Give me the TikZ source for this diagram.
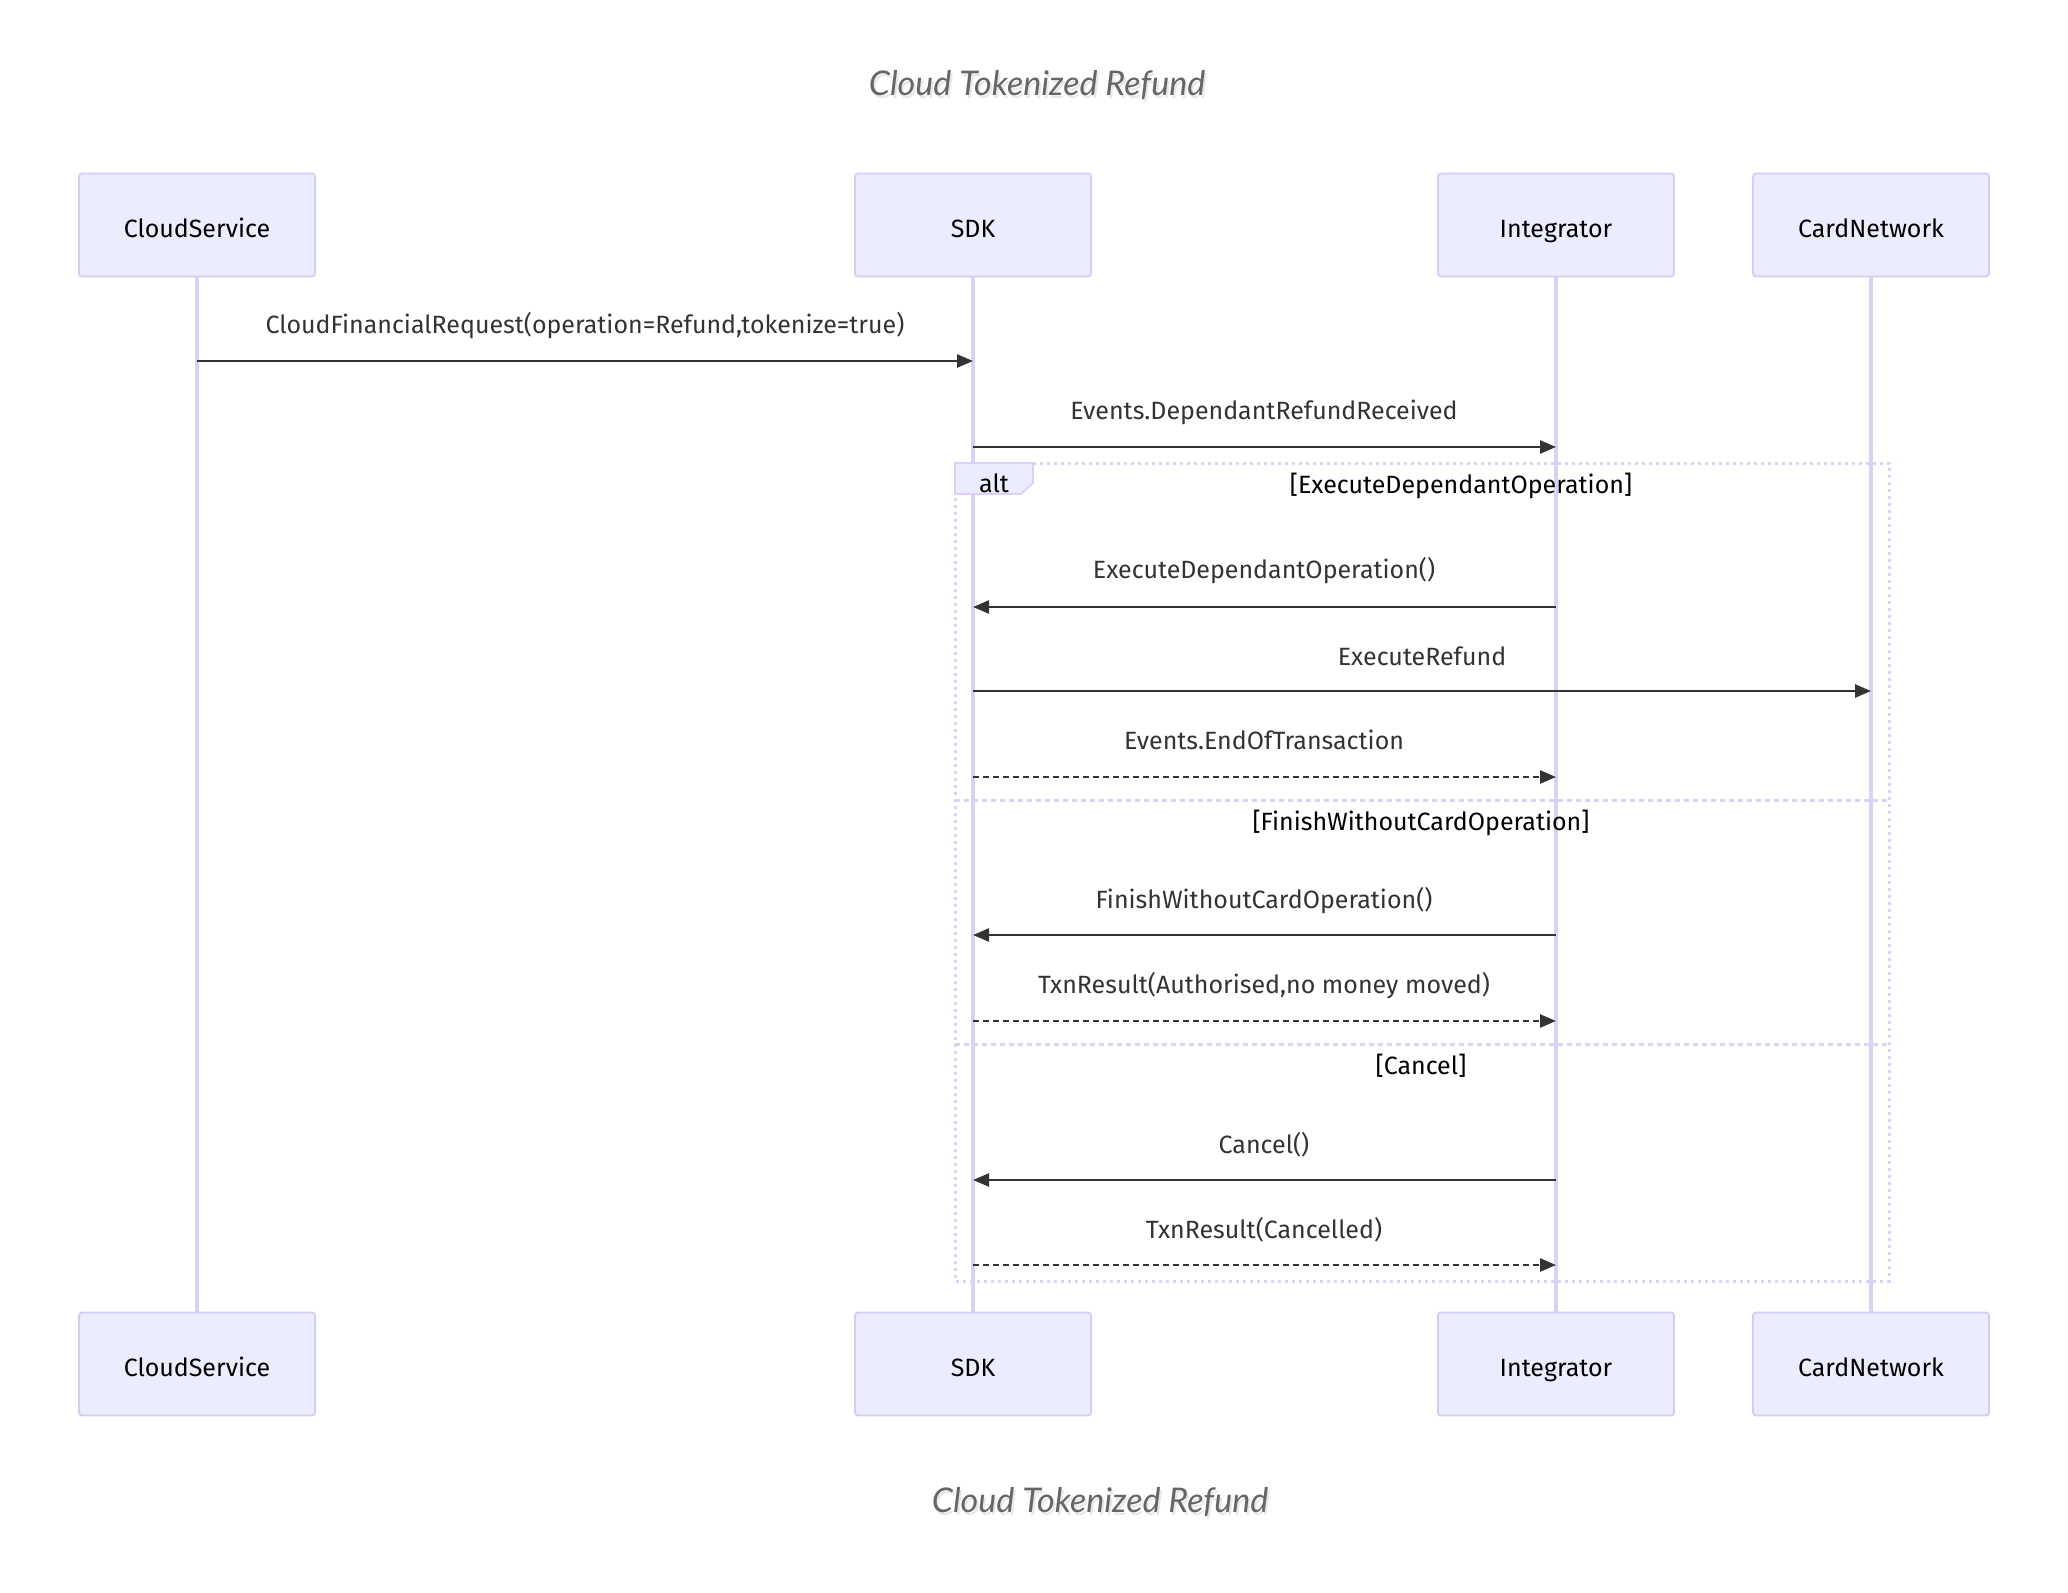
\documentclass[tikz,border=0pt]{standalone}
\usepackage{fontspec}
\setmainfont{Fira Sans}
\newfontfamily\titlefont{Lato}
\usetikzlibrary{arrows.meta}

\definecolor{actorfill}{HTML}{ECECFF}
\definecolor{actorline}{HTML}{D4CCF4}
\definecolor{lifeline}{HTML}{DAD1F6}
\definecolor{msgtext}{HTML}{333333}
\definecolor{titlegray}{HTML}{666666}

\tikzset{
  actor/.style={draw=actorline, fill=actorfill, rounded corners=3pt, line width=1.8pt,
    minimum width=236pt, minimum height=103pt, text height=26pt, text depth=2pt,
    font=\fontsize{25}{30}\selectfont},
  life/.style={draw=lifeline, line width=3.5pt},
  msg/.style={draw=msgtext, line width=2.5pt, -{Triangle[length=16pt,width=13pt]}},
  reply/.style={msg, dash pattern=on 6pt off 4pt},
  msglabel/.style={text=msgtext, font=\fontsize{25}{30}\selectfont},
  guard/.style={text=black, font=\fontsize{25}{30}\selectfont},
  altframe/.style={draw=lifeline, line width=3pt, dash pattern=on 3pt off 4pt},
  altsep/.style={draw=lifeline, line width=3pt, dash pattern=on 5pt off 4pt},
  chart title/.style={text=titlegray, font=\titlefont\itshape\fontsize{34}{40}\selectfont}
}

\begin{document}
\begin{tikzpicture}[x=1pt,y=-1pt]

  \useasboundingbox (0,0) rectangle (2068,1592);

  % Titles
  \node[chart title, text=black!15, opacity=0.6] at (1039,88) {Cloud Tokenized Refund};
  \node[chart title] (title) at (1037,85) {Cloud Tokenized Refund};
  \node[chart title, text=black!15, opacity=0.6] at (1102,1505) {Cloud Tokenized Refund};
  \node[chart title] (titlebot) at (1100,1502) {Cloud Tokenized Refund};

  % Actors
  \node[actor] (csTop)  at (197,225)  {CloudService};
  \node[actor] (sdkTop) at (973,225)  {SDK};
  \node[actor] (intTop) at (1556,225) {Integrator};
  \node[actor] (cnTop)  at (1871,225) {CardNetwork};

  \node[actor] (csBot)  at (197,1364)  {CloudService};
  \node[actor] (sdkBot) at (973,1364)  {SDK};
  \node[actor] (intBot) at (1556,1364) {Integrator};
  \node[actor] (cnBot)  at (1871,1364) {CardNetwork};

  % Lifelines
  \draw[life] (csTop)  -- (csBot);
  \draw[life] (sdkTop) -- (sdkBot);
  \draw[life] (intTop) -- (intBot);
  \draw[life] (cnTop)  -- (cnBot);

  % Alt frame
  \draw[altframe] (955,463) rectangle (1889,1281);
  \draw[altsep] (955,800) -- (1889,800);
  \draw[altsep] (955,1044) -- (1889,1044);
  \draw[draw=lifeline, fill=actorfill, line width=1.8pt]
    (955,463) -- (1033,463) -- (1033,483) -- (1021,494) -- (955,494) -- cycle;
  \node[guard] (altlabel) at (994,483) {alt};
  \node[guard] (g1) at (1461,486)  {[ExecuteDependantOperation]};
  \node[guard] (g2) at (1421,823)  {[FinishWithoutCardOperation]};
  \node[guard] (g3) at (1421,1066) {[Cancel]};

  % Message rows
  \coordinate (m1) at (0,361);
  \coordinate (m2) at (0,447);
  \coordinate (m3) at (0,607);
  \coordinate (m4) at (0,691);
  \coordinate (m5) at (0,777);
  \coordinate (m6) at (0,935);
  \coordinate (m7) at (0,1021);
  \coordinate (m8) at (0,1180);
  \coordinate (m9) at (0,1265);

  % Message labels
  \node[msglabel] (l1) at (585,326)  {CloudFinancialRequest(operation=Refund,tokenize=true)};
  \node[msglabel] (l2) at (1264,412) {Events.DependantRefundReceived};
  \node[msglabel] (l3) at (1264,571) {ExecuteDependantOperation()};
  \node[msglabel] (l4) at (1422,656) {ExecuteRefund};
  \node[msglabel] (l5) at (1264,740) {Events.EndOfTransaction};
  \node[msglabel] (l6) at (1264,901) {FinishWithoutCardOperation()};
  \node[msglabel] (l7) at (1264,986) {TxnResult(Authorised,no money moved)};
  \node[msglabel] (l8) at (1264,1145) {Cancel()};
  \node[msglabel] (l9) at (1264,1230) {TxnResult(Cancelled)};

  % Messages
  \draw[msg]   (csTop |- m1)  -- (sdkTop |- m1);
  \draw[msg]   (sdkTop |- m2) -- (intTop |- m2);
  \draw[msg]   (intTop |- m3) -- (sdkTop |- m3);
  \draw[msg]   (sdkTop |- m4) -- (cnTop |- m4);
  \draw[reply] (sdkTop |- m5) -- (intTop |- m5);
  \draw[msg]   (intTop |- m6) -- (sdkTop |- m6);
  \draw[reply] (sdkTop |- m7) -- (intTop |- m7);
  \draw[msg]   (intTop |- m8) -- (sdkTop |- m8);
  \draw[reply] (sdkTop |- m9) -- (intTop |- m9);

\end{tikzpicture}
\end{document}
